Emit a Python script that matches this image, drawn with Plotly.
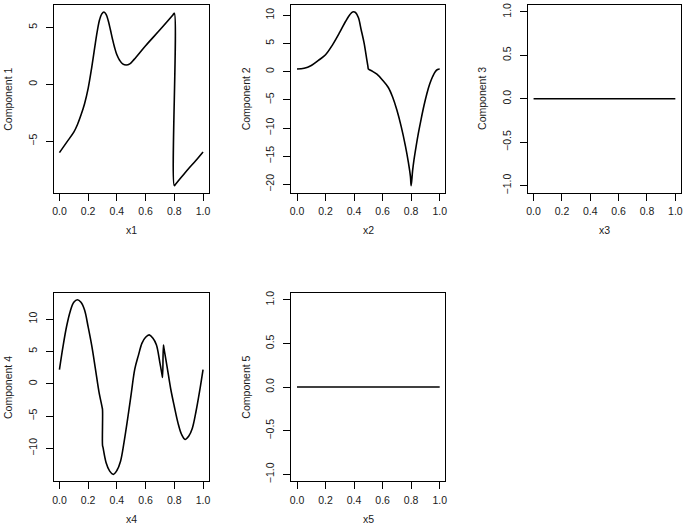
import plotly.graph_objects as go
from plotly.subplots import make_subplots

# values
x1 = [0.0, 0.05, 0.1, 0.125, 0.15, 0.175, 0.2, 0.225, 0.25, 0.265, 0.28, 0.295, 0.31,
      0.325, 0.34, 0.355, 0.37, 0.385, 0.4, 0.42, 0.44, 0.465, 0.49, 0.52, 0.6, 0.7,
      0.79, 0.8, 0.8, 0.81, 0.85, 0.9, 0.95, 1.0]
comp1 = [-6.0, -5.1, -4.2, -3.55, -2.7, -1.7, -0.35, 1.5, 3.6, 4.8, 5.7, 6.2, 6.37,
         6.15, 5.6, 4.8, 3.95, 3.2, 2.6, 2.1, 1.8, 1.7, 1.8, 2.2, 3.4, 4.8,
         6.1, 6.25, -8.9, -8.75, -8.15, -7.4, -6.7, -5.95]

x2 = [0.0, 0.05, 0.1, 0.15, 0.2, 0.25, 0.3, 0.34, 0.37, 0.39, 0.41, 0.43, 0.45, 0.47,
      0.49, 0.497, 0.5, 0.505, 0.53, 0.56, 0.6, 0.64, 0.67, 0.7, 0.73, 0.76, 0.78,
      0.795, 0.8, 0.81, 0.82, 0.835, 0.85, 0.87, 0.89, 0.91, 0.93, 0.95, 0.97, 0.985,
      1.0]
comp2 = [0.47, 0.6, 1.1, 2.0, 3.0, 4.8, 7.0, 8.9, 10.1, 10.6, 10.5, 9.6, 7.4, 5.1,
         2.0, 0.93, 0.47, 0.4, 0.05, -0.45, -1.5, -2.8, -4.5, -6.8, -9.7, -13.2, -16.0,
         -18.6, -20.2, -17.6, -15.6, -13.2, -11.0, -8.4, -6.0, -3.9, -2.2, -0.9, 0.05, 0.4,
         0.47]

x3 = [0.0, 1.0]
comp3 = [0.0, 0.0]

x4 = [0.0, 0.025, 0.05, 0.075, 0.1, 0.125, 0.15, 0.175, 0.2, 0.225, 0.25, 0.275, 0.297,
      0.3, 0.3, 0.303, 0.325, 0.35, 0.375, 0.4, 0.425, 0.45, 0.475, 0.5, 0.525, 0.55,
      0.575, 0.6, 0.625, 0.65, 0.675, 0.7, 0.715, 0.718, 0.724, 0.727, 0.75, 0.775, 0.8,
      0.825, 0.85, 0.875, 0.9, 0.925, 0.95, 0.975, 1.0]
comp4 = [2.2, 5.8, 8.9, 11.2, 12.6, 13.0, 12.6, 11.4, 8.8, 5.9, 2.4, -1.2, -3.6,
         -4.0, -9.5, -9.8, -12.2, -13.5, -14.0, -13.4, -12.0, -9.0, -5.4, -1.5, 2.3, 4.4,
         6.3, 7.2, 7.57, 7.1, 6.05, 3.2, 1.35, 1.0, 6.0, 5.6, 2.6, -0.8, -3.5,
         -6.0, -7.8, -8.6, -8.1, -6.9, -4.4, -1.3, 2.2]

x5 = [0.0, 1.0]
comp5 = [0.0, 0.0]

x_ticks = [0.0, 0.2, 0.4, 0.6, 0.8, 1.0]
x_labels = ["0.0", "0.2", "0.4", "0.6", "0.8", "1.0"]
y_ticks = [[-5, 0, 5], [-20, -15, -10, -5, 0, 5, 10], [-1.0, -0.5, 0.0, 0.5, 1.0],
           [-10, -5, 0, 5, 10], [-1.0, -0.5, 0.0, 0.5, 1.0]]
y_labels = [["\u22125", "0", "5"],
            ["\u221220", "\u221215", "\u221210", "\u22125", "0", "5", "10"],
            ["\u22121.0", "\u22120.5", "0.0", "0.5", "1.0"],
            ["\u221210", "\u22125", "0", "5", "10"],
            ["\u22121.0", "\u22120.5", "0.0", "0.5", "1.0"]]

panels = [(x1, comp1, "x1", "Component 1"), (x2, comp2, "x2", "Component 2"),
          (x3, comp3, "x3", "Component 3"), (x4, comp4, "x4", "Component 4"),
          (x5, comp5, "x5", "Component 5")]


def pad_range(v):
    # R style: data range widened by 4% each side
    lo, hi = min(v), max(v)
    if lo == hi:
        lo, hi = lo - 1, hi + 1
    d = (hi - lo) * 0.04
    return [lo - d, hi + d]


W, H = 685, 528
# plot boxes in pixels: left, right, top, bottom
boxes = [(52, 208, 3, 192), (291, 446, 3, 192), (529, 683, 3, 192),
         (52, 208, 293, 483), (291, 446, 293, 483)]
cells = [(1, 1), (1, 2), (1, 3), (2, 1), (2, 2)]

font = dict(family="Liberation Sans, Arial, sans-serif", size=10.5, color="#1a1a1a")

fig = make_subplots(rows=2, cols=3, specs=[[{}, {}, {}], [{}, {}, None]])

for i, (xs, ys, xt, yt) in enumerate(panels):
    r, c = cells[i]
    left, right, top, bottom = boxes[i]
    fig.add_trace(go.Scatter(x=xs, y=ys, mode="lines",
                             line=dict(color="black", width=1.6, shape="spline")),
                  row=r, col=c)
    fig.update_xaxes(domain=[left / W, right / W], range=pad_range(xs),
                     tickvals=x_ticks, ticktext=x_labels, ticks="outside", ticklen=7,
                     tickcolor="black", showline=True, mirror=True, linecolor="black",
                     linewidth=1, showgrid=False, zeroline=False, tickfont=font,
                     ticklabelstandoff=2, row=r, col=c)
    fig.update_yaxes(domain=[1 - bottom / H, 1 - top / H], range=pad_range(ys),
                     tickvals=y_ticks[i], ticktext=y_labels[i], tickangle=-90,
                     ticks="outside", ticklen=7, tickcolor="black", showline=True,
                     mirror=True, linecolor="black", linewidth=1, showgrid=False,
                     zeroline=False, tickfont=font, ticklabelstandoff=5, row=r, col=c)
    fig.add_annotation(text=xt, xref="paper", yref="paper", x=(left + right) / 2 / W,
                       y=1 - (bottom + 38) / H, showarrow=False, font=font,
                       xanchor="center", yanchor="middle")
    fig.add_annotation(text=yt, xref="paper", yref="paper", x=(left - 46) / W,
                       y=1 - (top + bottom) / 2 / H, showarrow=False, font=font,
                       textangle=-90, xanchor="center", yanchor="middle")

fig.update_layout(width=W, height=H, margin=dict(l=0, r=0, t=0, b=0),
                  plot_bgcolor="white", paper_bgcolor="white", showlegend=False,
                  font=font)

fig.write_html("out.html", config={"displayModeBar": False},
               post_script="document.body.style.margin='0';")
